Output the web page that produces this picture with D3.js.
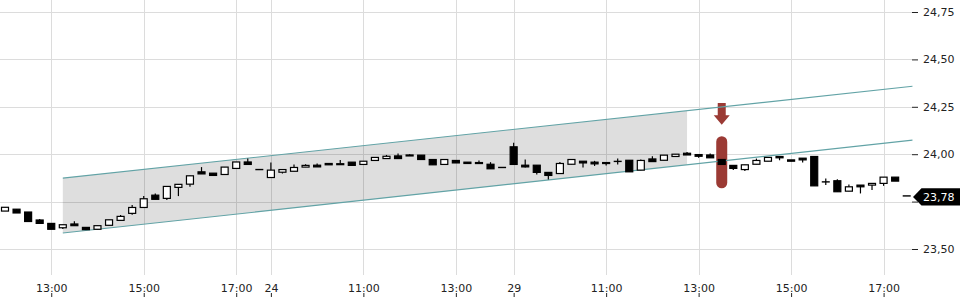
<!DOCTYPE html>
<html>
<head>
<meta charset="utf-8">
<title>Candles 23-29</title>
<script src="https://cdn.jsdelivr.net/npm/d3@7"></script>
<style>
body { margin: 0; background: #fff; }
svg { display: block; font-family: "DejaVu Sans", sans-serif; }
</style>
</head>
<body>
<script>
// 15 minute candles, three sessions (24 is a short day)
var sessions = [
  {day: "23", from: "12:00", to: "17:30"},
  {day: "24", from: "09:00", to: "14:00"},
  {day: "29", from: "09:00", to: "17:30"}
];

// [open, high, low, close]
var ohlc23 = [
  [23.700, 23.720, 23.700, 23.720], [23.710, 23.710, 23.690, 23.690], [23.695, 23.695, 23.645, 23.645],
  [23.653, 23.658, 23.635, 23.635], [23.635, 23.635, 23.604, 23.604], [23.612, 23.628, 23.605, 23.628],
  [23.632, 23.647, 23.623, 23.623], [23.614, 23.614, 23.602, 23.602], [23.604, 23.623, 23.604, 23.623],
  [23.625, 23.654, 23.625, 23.654], [23.651, 23.679, 23.651, 23.672], [23.688, 23.732, 23.681, 23.719],
  [23.719, 23.779, 23.719, 23.765], [23.784, 23.793, 23.762, 23.762], [23.767, 23.830, 23.758, 23.830],
  [23.825, 23.841, 23.779, 23.841], [23.842, 23.886, 23.828, 23.886], [23.907, 23.932, 23.896, 23.896],
  [23.900, 23.900, 23.888, 23.888], [23.893, 23.932, 23.893, 23.932], [23.925, 23.959, 23.925, 23.959],
  [23.959, 23.977, 23.946, 23.946], [23.919, 23.919, 23.919, 23.919]
];
var ohlc24 = [
  [23.877, 23.956, 23.877, 23.916], [23.905, 23.919, 23.898, 23.919], [23.910, 23.946, 23.910, 23.930],
  [23.932, 23.947, 23.932, 23.941], [23.942, 23.951, 23.933, 23.933], [23.951, 23.951, 23.944, 23.944],
  [23.948, 23.970, 23.948, 23.950], [23.958, 23.958, 23.941, 23.941], [23.946, 23.963, 23.946, 23.963],
  [23.967, 23.983, 23.967, 23.983], [23.977, 23.996, 23.977, 23.989], [23.991, 24.004, 23.977, 23.977],
  [23.996, 24.000, 23.991, 23.991], [23.995, 23.995, 23.972, 23.972], [23.972, 23.972, 23.944, 23.944],
  [23.946, 23.972, 23.946, 23.972], [23.967, 23.967, 23.954, 23.954], [23.958, 23.958, 23.951, 23.951],
  [23.956, 23.967, 23.955, 23.955], [23.947, 23.958, 23.923, 23.923], [23.930, 23.930, 23.930, 23.930]
];
var ohlc29 = [
  [24.039, 24.060, 23.946, 23.946], [23.942, 23.972, 23.930, 23.933], [23.942, 23.942, 23.893, 23.904],
  [23.904, 23.904, 23.867, 23.888], [23.898, 23.959, 23.898, 23.951], [23.947, 23.972, 23.947, 23.972],
  [23.963, 23.963, 23.930, 23.954], [23.958, 23.965, 23.938, 23.949], [23.956, 23.956, 23.941, 23.951],
  [23.962, 23.977, 23.946, 23.962], [23.968, 23.968, 23.907, 23.907], [23.916, 23.972, 23.916, 23.967],
  [23.975, 23.989, 23.961, 23.961], [23.968, 23.995, 23.968, 23.995], [23.988, 24.000, 23.988, 24.000],
  [24.005, 24.011, 23.996, 23.996], [23.998, 23.998, 23.981, 23.989], [23.996, 24.004, 23.981, 23.981],
  [23.972, 23.972, 23.946, 23.946], [23.941, 23.941, 23.917, 23.925], [23.919, 23.944, 23.911, 23.944],
  [23.947, 23.977, 23.947, 23.967], [23.963, 23.983, 23.963, 23.983], [23.988, 23.988, 23.968, 23.981],
  [23.970, 23.970, 23.963, 23.963], [23.979, 23.979, 23.956, 23.970], [23.988, 23.988, 23.833, 23.833],
  [23.854, 23.872, 23.837, 23.854], [23.860, 23.868, 23.802, 23.802], [23.805, 23.840, 23.805, 23.828],
  [23.837, 23.837, 23.793, 23.828], [23.837, 23.846, 23.811, 23.846], [23.846, 23.879, 23.833, 23.879],
  [23.879, 23.879, 23.858, 23.858], [23.780, 23.780, 23.780, 23.780]
];

var tickSlots  = ["23 13:00", "23 15:00", "23 17:00", "24 09:00", "24 11:00", "24 13:00",
                  "29 09:00", "29 11:00", "29 13:00", "29 15:00", "29 17:00"];
var tickLabels = ["13:00", "15:00", "17:00", "24", "11:00", "13:00",
                  "29", "11:00", "13:00", "15:00", "17:00"];
var priceTicks = [23.50, 23.75, 24.00, 24.25, 24.50, 24.75];

// trend channel drawn on the chart (slot index, upper, lower)
var channelStart = [5, 23.874, 23.584];
var channelEnd   = [78.5, 24.358, 24.074];
var channelFillEnd = 59;

// signal marker
var signalSlot = "29 13:30";
var signalBar  = [24.095, 23.82];
var signalArrow = [24.27, 24.205, 24.155];

var w = 960, h = 300;

// build the slot keys
var slots = [];
var candles = [];
var allData = {"23": ohlc23, "24": ohlc24, "29": ohlc29};
sessions.forEach(function(s) {
  var a = s.from.split(":"), b = s.to.split(":");
  var m0 = +a[0] * 60 + +a[1], m1 = +b[0] * 60 + +b[1];
  var k = 0;
  for (var m = m0; m <= m1; m += 15, k++) {
    var key = s.day + " " + d3.format("02d")(Math.floor(m / 60)) + ":" + d3.format("02d")(m % 60);
    slots.push(key);
    var v = allData[s.day][k];
    candles.push({key: key, o: v[0], h: v[1], l: v[2], c: v[3]});
  }
});

var svg = d3.select("body").append("svg")
  .attr("width", w)
  .attr("height", h);

var x = d3.scalePoint().domain(slots).range([5, 906.7]);
var xi = d3.scaleLinear().domain([0, slots.length - 1]).range(x.range());
var y = d3.scaleLinear().domain([23.5, 24.75]).range([249, 12]);

// grid
svg.append("g").selectAll("line")
  .data(priceTicks).enter().append("line")
  .attr("x1", 0).attr("x2", 912)
  .attr("y1", function(d) { return Math.round(y(d)) + 0.5; })
  .attr("y2", function(d) { return Math.round(y(d)) + 0.5; })
  .attr("stroke", "#dcdcdc");

svg.append("g").selectAll("line")
  .data(tickSlots).enter().append("line")
  .attr("x1", function(d) { return Math.round(x(d)) + 0.5; })
  .attr("x2", function(d) { return Math.round(x(d)) + 0.5; })
  .attr("y1", 0).attr("y2", 275)
  .attr("stroke", "#dcdcdc");

// channel
function chan(i, which) {
  var t = (i - channelStart[0]) / (channelEnd[0] - channelStart[0]);
  return channelStart[which] + t * (channelEnd[which] - channelStart[which]);
}
var fillPts = [
  [xi(channelStart[0]), y(channelStart[1])],
  [xi(channelFillEnd), y(chan(channelFillEnd, 1))],
  [xi(channelFillEnd), y(chan(channelFillEnd, 2))],
  [xi(channelStart[0]), y(channelStart[2])]
];
svg.append("polygon")
  .attr("points", fillPts.map(function(p) { return p.join(","); }).join(" "))
  .attr("fill", "#000")
  .attr("fill-opacity", 0.13);

// signal marker
var sx = x(signalSlot);
svg.append("rect")
  .attr("x", sx - 5.5).attr("width", 11)
  .attr("y", y(signalBar[0])).attr("height", y(signalBar[1]) - y(signalBar[0]))
  .attr("rx", 5.5)
  .attr("fill", "#9b3a34");
svg.append("path")
  .attr("d", "M" + (sx - 4) + "," + y(signalArrow[0]) +
             "H" + (sx + 4) + "V" + y(signalArrow[1]) +
             "H" + (sx + 8) + "L" + sx + "," + y(signalArrow[2]) +
             "L" + (sx - 8) + "," + y(signalArrow[1]) +
             "H" + (sx - 4) + "Z")
  .attr("fill", "#9b3a34");

[1, 2].forEach(function(k) {
  svg.append("line")
    .attr("x1", xi(channelStart[0])).attr("y1", y(channelStart[k]))
    .attr("x2", xi(channelEnd[0])).attr("y2", y(channelEnd[k]))
    .attr("stroke", "#62a3a6")
    .attr("stroke-width", 1.1);
});

// candles
var cg = svg.append("g").selectAll("g")
  .data(candles).enter().append("g");

cg.filter(function(d) { return d.h > d.l; })
  .append("line")
  .attr("x1", function(d) { return x(d.key); })
  .attr("x2", function(d) { return x(d.key); })
  .attr("y1", function(d) { return y(d.h); })
  .attr("y2", function(d) { return y(d.l); })
  .attr("stroke", "#000")
  .attr("stroke-width", 1.2);

cg.filter(function(d) { return d.o != d.c; })
  .append("rect")
  .attr("x", function(d) { return x(d.key) - 3.5; })
  .attr("width", 7)
  .attr("y", function(d) { return y(Math.max(d.o, d.c)); })
  .attr("height", function(d) { return Math.max(1, Math.abs(y(d.o) - y(d.c))); })
  .attr("fill", function(d) { return d.c > d.o ? "#fff" : "#000"; })
  .attr("stroke", "#000")
  .attr("stroke-width", 1.2);

cg.filter(function(d) { return d.o == d.c; })
  .append("line")
  .attr("x1", function(d) { return x(d.key) - 4; })
  .attr("x2", function(d) { return x(d.key) + 4; })
  .attr("y1", function(d) { return y(d.o); })
  .attr("y2", function(d) { return y(d.o); })
  .attr("stroke", "#000")
  .attr("stroke-width", 1.4);

// axes
var comma = function(d) { return d3.format(".2f")(d).replace(".", ","); };
var last = candles[candles.length - 1].c;

var ya = svg.append("g")
  .attr("transform", "translate(912,0)")
  .call(d3.axisRight(y).tickValues(priceTicks).tickFormat(comma).tickSize(6).tickPadding(5));
ya.select(".domain").remove();
// the label under the last price tag is covered in the original
ya.selectAll(".tick text")
  .filter(function(d) { return Math.abs(y(d) - y(last)) < 12; })
  .remove();
ya.selectAll("text").attr("font-size", 11).attr("fill", "#222").attr("font-family", "DejaVu Sans");
ya.selectAll("line").attr("stroke", "#222");

var xa = svg.append("g")
  .attr("transform", "translate(0,293)")
  .call(d3.axisBottom(x).tickValues(tickSlots)
        .tickFormat(function(d, i) { return tickLabels[i]; }).tickSize(4));
xa.select(".domain").remove();
xa.selectAll("text").attr("y", -1.5).attr("dy", 0)
  .attr("font-size", 11).attr("fill", "#222").attr("font-family", "DejaVu Sans");
xa.selectAll("line").attr("stroke", "#222");

// last price tag
var ly = y(last) + 1;
svg.append("path")
  .attr("d", "M913," + ly + "L921.5," + (ly - 8.7) + "H960V" + (ly + 8.7) + "H921.5Z")
  .attr("fill", "#000");
svg.append("text")
  .attr("x", 923).attr("y", ly)
  .attr("dy", "0.35em")
  .attr("font-size", 11)
  .attr("fill", "#fff")
  .text(comma(last));
</script>
</body>
</html>
